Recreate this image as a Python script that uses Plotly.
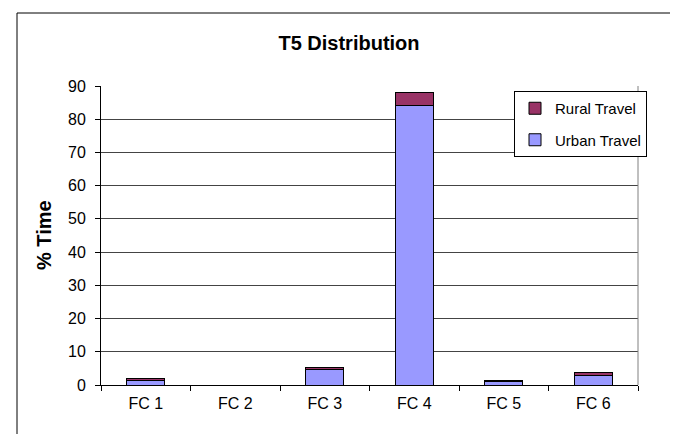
import plotly.graph_objects as go

categories = ["FC 1", "FC 2", "FC 3", "FC 4", "FC 5", "FC 6"]
urban = [1.5, 0, 4.7, 84.2, 1.1, 2.9]
rural = [0.6, 0, 0.5, 3.7, 0.2, 0.9]
yticks = [0, 10, 20, 30, 40, 50, 60, 70, 80, 90]

W, H = 678, 434
L, R, T, B = 93, 630, 78, 377
pw, ph = R - L, B - T

def px(x):
    return (x - L) / pw

def py(y):
    return (B - y) / ph

fig = go.Figure()
fig.add_bar(x=categories, y=urban, name="Urban Travel", legendgroup="u", legendrank=2,
            marker=dict(color="#9999FF", line=dict(color="black", width=1)))
fig.add_bar(x=categories, y=rural, name="Rural Travel", legendgroup="r", legendrank=1,
            marker=dict(color="#993366", line=dict(color="black", width=1)))

fig.update_layout(
    width=W, height=H,
    margin=dict(l=L, r=W - R, t=T, b=H - B, pad=0),
    barmode="stack", bargap=0.58,
    paper_bgcolor="white", plot_bgcolor="white",
    font=dict(family="Liberation Sans, Arial, sans-serif", size=16, color="black"),
    title=dict(text="<b>T5 Distribution</b>", x=341 / W, xref="container", xanchor="center",
               y=1 - 35 / H, yref="container", yanchor="middle",
               font=dict(size=20, color="black")),
    showlegend=True,
    legend=dict(x=px(506), y=py(83), xanchor="left", yanchor="top",
                bgcolor="white", bordercolor="black", borderwidth=1,
                traceorder="grouped", tracegroupgap=9,
                font=dict(size=15), itemwidth=30),
    xaxis=dict(type="category", tickson="boundaries", ticks="outside", ticklen=5,
               tickcolor="black", showline=True, linecolor="black", linewidth=1,
               showgrid=False, tickfont=dict(size=16), fixedrange=True,
               ticklabelstandoff=4),
    yaxis=dict(range=[0, 90], tickvals=yticks, ticks="outside", ticklen=5,
               tickcolor="black", showline=True, linecolor="black", linewidth=1,
               showgrid=True, gridcolor="#444444", gridwidth=1, zeroline=False,
               tickfont=dict(size=16), ticklabelstandoff=6),
    shapes=[
        dict(type="rect", xref="paper", yref="paper", x0=px(9), x1=px(671),
             y0=py(445), y1=py(5), line=dict(color="black", width=1), layer="below"),
        dict(type="line", xref="paper", yref="paper", x0=1, x1=1, y0=0, y1=1,
             line=dict(color="#808080", width=1)),
    ],
    annotations=[
        dict(text="<b>% Time</b>", xref="paper", yref="paper", x=px(36), y=py(227),
             textangle=-90, showarrow=False, font=dict(size=20), xanchor="center", yanchor="middle"),
    ],
)

fig.write_html("out.html")
